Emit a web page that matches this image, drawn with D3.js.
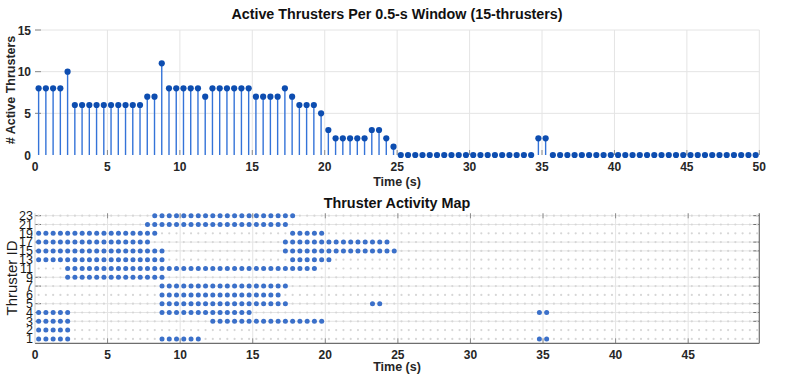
<!DOCTYPE html>
<html>
<head>
<meta charset="utf-8">
<script src="https://cdn.jsdelivr.net/npm/d3@7"></script>
<style>
  html, body { margin: 0; padding: 0; background: #fff; }
  svg { display: block; font-family: "Liberation Sans", Arial, sans-serif; }
</style>
</head>
<body>
<div id="chart"></div>
<script>
// ---- data ----
const windowSize = 0.5; // s
// active thruster count per 0.5-s window (100 windows, 0..50 s)
const activeCounts = [
  8, 8, 8, 8, 10, 6, 6, 6, 6, 6, 6, 6, 6, 6, 6, 7, 7, 11, 8, 8,
  8, 8, 8, 7, 8, 8, 8, 8, 8, 8, 7, 7, 7, 7, 8, 7, 6, 6, 6, 5,
  3, 2, 2, 2, 2, 2, 3, 3, 2, 1, 0, 0, 0, 0, 0, 0, 0, 0, 0, 0,
  0, 0, 0, 0, 0, 0, 0, 0, 0, 2, 2, 0, 0, 0, 0, 0, 0, 0, 0, 0,
  0, 0, 0, 0, 0, 0, 0, 0, 0, 0, 0, 0, 0, 0, 0, 0, 0, 0, 0, 0
];
const thrusterIds = [1, 2, 3, 4, 5, 6, 7, 9, 11, 13, 15, 17, 19, 21, 23];
// active spans per thruster, [first window centre, last window centre] in s
const activeSpans = {
  1:  [[0.25, 2.25], [8.75, 11.25], [34.75, 35.25]],
  2:  [[0.25, 2.25]],
  3:  [[0.25, 2.25], [12.25, 19.75]],
  4:  [[0.25, 2.25], [8.75, 14.75], [34.75, 35.25]],
  5:  [[8.75, 17.25], [23.25, 23.75]],
  6:  [[8.75, 16.75]],
  7:  [[8.75, 17.25]],
  9:  [[2.25, 8.75]],
  11: [[2.25, 19.25]],
  13: [[0.25, 8.75], [17.75, 20.25]],
  15: [[0.25, 8.75], [17.25, 24.75]],
  17: [[0.25, 7.75], [17.25, 24.25]],
  19: [[0.25, 8.25], [17.75, 19.75]],
  21: [[7.75, 17.25]],
  23: [[8.25, 17.75]]
};
const gridIds = [3, 4, 5, 7, 9, 15, 17, 21, 23];
const xTicksTop = [0, 5, 10, 15, 20, 25, 30, 35, 40, 45, 50];
const xTicksBottom = [0, 5, 10, 15, 20, 25, 30, 35, 40, 45];
const yTicksTop = [0, 5, 10, 15];

const windows = activeCounts.map((c, i) => ({ t: (i + 0.5) * windowSize, count: c }));

// ---- layout ----
const W = 793, H = 379;
const svg = d3.select('#chart').append('svg').attr('width', W).attr('height', H);

const gridColor = '#e4e4e4', tickColor = '#8a8a8a', axisColor = '#6e6e6e', textColor = '#262626';

// ---------- top: stem plot ----------
const x1 = d3.scaleLinear().domain([0, 50]).range([35, 759.3]);
const y1 = d3.scaleLinear().domain([0, 15]).range([155, 30]);

const gTop = svg.append('g');

gTop.append('g').selectAll('line')
  .data(xTicksTop.slice(1))
  .join('line')
  .attr('x1', d => x1(d)).attr('x2', d => x1(d))
  .attr('y1', y1(15)).attr('y2', y1(0))
  .attr('stroke', gridColor).attr('stroke-width', 1);

gTop.append('g').selectAll('line')
  .data(yTicksTop.slice(1))
  .join('line')
  .attr('x1', x1(0)).attr('x2', x1(50))
  .attr('y1', d => y1(d)).attr('y2', d => y1(d))
  .attr('stroke', gridColor).attr('stroke-width', 1);

// small inward ticks
gTop.append('g').selectAll('line')
  .data(xTicksTop.slice(1))
  .join('line')
  .attr('x1', d => x1(d)).attr('x2', d => x1(d))
  .attr('y1', y1(0)).attr('y2', y1(0) - 5)
  .attr('stroke', tickColor).attr('stroke-width', 1);

gTop.append('g').selectAll('line')
  .data(yTicksTop.slice(1))
  .join('line')
  .attr('x1', x1(0)).attr('x2', x1(0) + 6)
  .attr('y1', d => y1(d)).attr('y2', d => y1(d))
  .attr('stroke', tickColor).attr('stroke-width', 1);

// stems
gTop.append('g').selectAll('line')
  .data(windows.filter(d => d.count > 0))
  .join('line')
  .attr('x1', d => x1(d.t)).attr('x2', d => x1(d.t))
  .attr('y1', y1(0)).attr('y2', d => y1(d.count))
  .attr('stroke', '#3473d8').attr('stroke-width', 1.4);

gTop.append('g').selectAll('circle')
  .data(windows)
  .join('circle')
  .attr('cx', d => x1(d.t)).attr('cy', d => y1(d.count))
  .attr('r', 3.1)
  .attr('fill', '#0d4db0');

// tick labels
gTop.append('g').selectAll('text')
  .data(xTicksTop)
  .join('text')
  .attr('x', d => x1(d)).attr('y', 171)
  .attr('text-anchor', 'middle')
  .attr('font-size', '12px').attr('font-weight', 'bold').attr('fill', textColor)
  .text(d => d);

gTop.append('g').selectAll('text')
  .data(yTicksTop)
  .join('text')
  .attr('x', 31).attr('y', d => y1(d) + 4.5)
  .attr('text-anchor', 'end')
  .attr('font-size', '12px').attr('font-weight', 'bold').attr('fill', textColor)
  .text(d => d);

gTop.append('text')
  .attr('x', 397).attr('y', 186)
  .attr('text-anchor', 'middle')
  .attr('font-size', '12.5px').attr('font-weight', 'bold').attr('fill', textColor)
  .text('Time (s)');

gTop.append('text')
  .attr('transform', 'translate(15,90) rotate(-90)')
  .attr('text-anchor', 'middle')
  .attr('font-size', '12.5px').attr('font-weight', 'bold').attr('fill', textColor)
  .text('# Active Thrusters');

gTop.append('text')
  .attr('x', 397).attr('y', 19)
  .attr('text-anchor', 'middle')
  .attr('font-size', '14.3px').attr('font-weight', 'bold').attr('fill', '#111')
  .text('Active Thrusters Per 0.5-s Window (15-thrusters)');

// ---------- bottom: activity map ----------
const x2 = d3.scaleLinear().domain([0, 49.9]).range([35, 759.3]);
const y2 = d3.scaleLinear().domain([0.5, 15.27]).range([343.3, 213.3]);
const rowOf = id => thrusterIds.indexOf(id) + 1;

const gBot = svg.append('g');

gBot.append('g').selectAll('line')
  .data(xTicksBottom.slice(1))
  .join('line')
  .attr('x1', d => x2(d)).attr('x2', d => x2(d))
  .attr('y1', y2.range()[1]).attr('y2', y2.range()[0])
  .attr('stroke', gridColor).attr('stroke-width', 1);

gBot.append('g').selectAll('line')
  .data(gridIds)
  .join('line')
  .attr('x1', x2(0)).attr('x2', x2(49.9))
  .attr('y1', d => y2(rowOf(d))).attr('y2', d => y2(rowOf(d)))
  .attr('stroke', gridColor).attr('stroke-width', 1);

// ticks top & bottom (inward)
gBot.append('g').selectAll('line')
  .data(xTicksBottom.slice(1))
  .join('line')
  .attr('x1', d => x2(d)).attr('x2', d => x2(d))
  .attr('y1', y2.range()[0]).attr('y2', y2.range()[0] - 5)
  .attr('stroke', tickColor);
gBot.append('g').selectAll('line')
  .data(xTicksBottom.slice(1))
  .join('line')
  .attr('x1', d => x2(d)).attr('x2', d => x2(d))
  .attr('y1', y2.range()[1]).attr('y2', y2.range()[1] + 5)
  .attr('stroke', tickColor);

// y ticks left & right (inward)
gBot.append('g').selectAll('line')
  .data(gridIds)
  .join('line')
  .attr('x1', x2(0)).attr('x2', x2(0) + 6)
  .attr('y1', d => y2(rowOf(d))).attr('y2', d => y2(rowOf(d)))
  .attr('stroke', axisColor);
gBot.append('g').selectAll('line')
  .data(gridIds)
  .join('line')
  .attr('x1', x2(49.9)).attr('x2', x2(49.9) - 6)
  .attr('y1', d => y2(rowOf(d))).attr('y2', d => y2(rowOf(d)))
  .attr('stroke', axisColor);

// axis lines: bottom and right dark, left faint
gBot.append('line')
  .attr('x1', x2(0)).attr('x2', x2(49.9))
  .attr('y1', y2.range()[0]).attr('y2', y2.range()[0])
  .attr('stroke', axisColor).attr('stroke-width', 1.2);
gBot.append('line')
  .attr('x1', x2(49.9)).attr('x2', x2(49.9))
  .attr('y1', y2.range()[1]).attr('y2', y2.range()[0])
  .attr('stroke', axisColor).attr('stroke-width', 1.2);
gBot.append('line')
  .attr('x1', x2(0)).attr('x2', x2(0))
  .attr('y1', y2.range()[1]).attr('y2', y2.range()[0])
  .attr('stroke', '#d0d0d0').attr('stroke-width', 1);

// dot cells
const isActive = (id, t) => activeSpans[id].some(([a, b]) => t >= a - 1e-6 && t <= b + 1e-6);
const cells = [];
thrusterIds.forEach(id => windows.forEach(w => cells.push({ id, t: w.t, on: isActive(id, w.t) })));

gBot.append('g').selectAll('circle')
  .data(cells.filter(d => !d.on))
  .join('circle')
  .attr('cx', d => x2(d.t)).attr('cy', d => y2(rowOf(d.id)))
  .attr('r', 1.1)
  .attr('fill', '#d6d6d6');

gBot.append('g').selectAll('circle')
  .data(cells.filter(d => d.on))
  .join('circle')
  .attr('cx', d => x2(d.t)).attr('cy', d => y2(rowOf(d.id)))
  .attr('r', 2.5)
  .attr('fill', '#3b70c9');

// labels
gBot.append('g').selectAll('text')
  .data(xTicksBottom)
  .join('text')
  .attr('x', d => x2(d)).attr('y', 359)
  .attr('text-anchor', 'middle')
  .attr('font-size', '12px').attr('font-weight', 'bold').attr('fill', textColor)
  .text(d => d);

gBot.append('g').selectAll('text')
  .data(thrusterIds)
  .join('text')
  .attr('x', 33).attr('y', d => y2(rowOf(d)) + 4.3)
  .attr('text-anchor', 'end')
  .attr('font-size', '12.5px').attr('fill', '#1a1a1a')
  .text(d => d);

gBot.append('text')
  .attr('x', 397).attr('y', 371)
  .attr('text-anchor', 'middle')
  .attr('font-size', '12.5px').attr('font-weight', 'bold').attr('fill', textColor)
  .text('Time (s)');

gBot.append('text')
  .attr('transform', 'translate(17,278) rotate(-90)')
  .attr('text-anchor', 'middle')
  .attr('font-size', '15px').attr('fill', '#1a1a1a')
  .text('Thruster ID');

gBot.append('text')
  .attr('x', 397).attr('y', 208)
  .attr('text-anchor', 'middle')
  .attr('font-size', '14.4px').attr('font-weight', 'bold').attr('fill', '#111')
  .text('Thruster Activity Map');
</script>
</body>
</html>
